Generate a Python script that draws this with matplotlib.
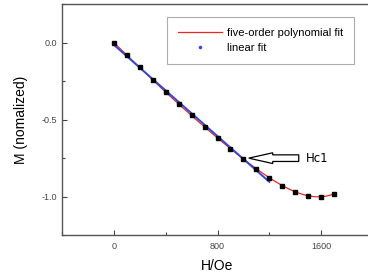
import numpy as np
import matplotlib
matplotlib.use("Agg")
import matplotlib.pyplot as plt
from matplotlib.ticker import MultipleLocator

plt.rcParams['font.family'] = ['Liberation Sans', 'DejaVu Sans']

# measured points
field = [0, 100, 200, 300, 400, 500, 600, 700, 800, 900,
         1000, 1100, 1200, 1300, 1400, 1500, 1600, 1700]
moment = [0.0, -0.082, -0.162, -0.244, -0.322, -0.400, -0.473, -0.547, -0.622,
          -0.690, -0.757, -0.819, -0.877, -0.929, -0.970, -0.995, -1.002, -0.982]

# linear fit segment
lin_field = [0, 1200]
lin_moment = [-0.015, -0.905]

hc1_field = 1041
hc1_moment = -0.751

coef = np.polyfit(field, moment, 5)
fit_x = np.linspace(field[0], field[-1], 300)
fit_y = np.polyval(coef, fit_x)

fig = plt.figure(figsize=(3.68, 2.77), dpi=100)
ax = fig.add_axes([62 / 368, 42 / 277, 311 / 368, 231 / 277])

ax.plot(fit_x, fit_y, color='#e8281e', lw=0.9, zorder=2,
        label='five-order polynomial fit')
ax.plot(lin_field, lin_moment, color='#3347d8', lw=1.4, zorder=3)
ax.plot(field, moment, ls='none', marker='s', ms=3.4, color='black', zorder=4)
# legend handle for the linear fit is a small blue dot
ax.plot([], [], ls='none', marker='.', ms=3, color='#3347d8', label='linear fit')

ax.set_xlim(-400, 2000)
ax.set_ylim(-1.25, 0.25)
ax.xaxis.set_major_locator(MultipleLocator(800))
ax.xaxis.set_minor_locator(MultipleLocator(400))
ax.yaxis.set_major_locator(MultipleLocator(0.5))
ax.yaxis.set_minor_locator(MultipleLocator(0.25))
ax.yaxis.set_major_formatter(plt.FormatStrFormatter('%.1f'))

ax.tick_params(which='both', direction='in', colors='#444444', labelsize=6.5,
               width=0.8, top=False, right=False)
ax.tick_params(which='major', length=3.5)
ax.tick_params(which='minor', length=2.5)
ax.tick_params(axis='x', pad=5)
for s in ['left', 'bottom', 'top']:
    ax.spines[s].set_color('#555555')
    ax.spines[s].set_linewidth(1.0)
ax.spines['right'].set_visible(False)

ax.set_xlabel('H/Oe', fontsize=10, labelpad=6)
ax.set_ylabel('M (nomalized)', fontsize=10, labelpad=10)

# hollow arrow marking Hc1
ax.arrow(hc1_field + 386, hc1_moment, -386, 0, width=0.043, head_width=0.07,
         head_length=185, length_includes_head=True, fc='white', ec='black',
         lw=0.9, zorder=5)
ax.text(hc1_field + 440, hc1_moment, 'Hc1', fontsize=8.5, family='DejaVu Sans',
        va='center', ha='left')

leg = ax.legend(loc='upper left', bbox_to_anchor=(167 / 368, 1 - 17 / 277),
                bbox_transform=fig.transFigure, fontsize=8, frameon=True,
                fancybox=False, edgecolor='#999999', handlelength=4.0,
                handletextpad=0.45, borderpad=0.95, labelspacing=0.5,
                borderaxespad=0)
leg.get_frame().set_linewidth(0.8)

fig.savefig('out.png', dpi=100)
